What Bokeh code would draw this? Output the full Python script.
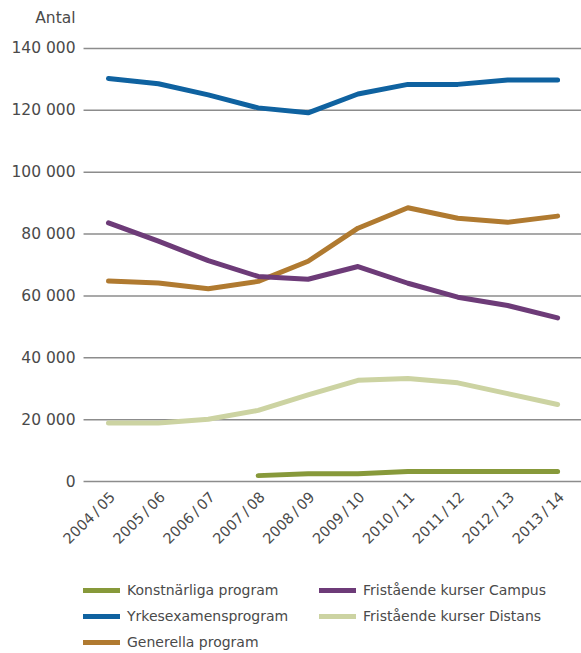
from bokeh.plotting import figure
from bokeh.models import Range1d, Legend, LegendItem
from bokeh.core.properties import value
from bokeh.embed import file_html
from bokeh.resources import INLINE
import math

year_labels = ["2004\u2009/\u200905", "2005\u2009/\u200906", "2006\u2009/\u200907", "2007\u2009/\u200908",
               "2008\u2009/\u200909", "2009\u2009/\u200910", "2010\u2009/\u200911", "2011\u2009/\u200912",
               "2012\u2009/\u200913", "2013\u2009/\u200914"]

konstnarliga = [None, None, None, 1900, 2500, 2500, 3200, 3200, 3200, 3200]
yrkesexamen = [130300, 128600, 125000, 120800, 119200, 125300, 128400, 128400, 129800, 129800]
generella = [64800, 64200, 62300, 64700, 71200, 81900, 88500, 85100, 83800, 85800]
campus = [83600, 77700, 71400, 66300, 65400, 69500, 64100, 59600, 56900, 52900]
distans = [18900, 18900, 20100, 23000, 28000, 32700, 33300, 31900, 28400, 24900]

y_ticks = [0, 20000, 40000, 60000, 80000, 100000, 120000, 140000]
y_tick_labels = ["0", "20 000", "40 000", "60 000", "80 000", "100 000", "120 000", "140 000"]
unit_label = "Antal"
unit_label_pos = 149700

FONT = "DejaVu Sans"
TXT = "#4a4a4a"
GRID = "#8c8c8c"

x_idx = list(range(len(year_labels)))
X_START, X_END = -2.164, 9.479
axis_x = x_idx[0] - 0.5

p = figure(frame_width=581, frame_height=643,
           x_range=Range1d(X_START, X_END),
           y_range=Range1d(-55612, 152286),
           x_axis_location=None, y_axis_location=None,
           output_backend="svg", toolbar_location=None,
           min_border_left=0, min_border_right=0, min_border_top=10, min_border_bottom=0)
p.outline_line_color = None
p.background_fill_color = "white"
p.border_fill_color = "white"
p.xgrid.grid_line_color = None
p.ygrid.grid_line_color = None

# horizontal grid lines (incl. the zero baseline)
p.segment(x0=[axis_x] * len(y_ticks), y0=y_ticks, x1=[X_END] * len(y_ticks), y1=y_ticks,
          line_color=GRID, line_width=1.5)

# y tick labels and unit label
p.text(x=[axis_x] * (len(y_ticks) + 1), y=y_ticks + [unit_label_pos],
       text=y_tick_labels + [unit_label], text_align="right", text_baseline="middle",
       x_offset=-8, text_font=value(FONT), text_font_size="15.5px", text_color=TXT)

# category labels, rotated, hanging under the zero line
p.text(x=x_idx, y=[0] * len(x_idx), text=year_labels, angle=math.pi / 4,
       text_align="right", text_baseline="middle", x_offset=4, y_offset=13,
       text_font=value(FONT), text_font_size="14.5px", text_color=TXT)

series = [
    ("Konstnärliga program", konstnarliga, "#87993a"),
    ("Yrkesexamensprogram", yrkesexamen, "#0f62a0"),
    ("Generella program", generella, "#b07a30"),
    ("Fristående kurser Campus", campus, "#6d3b78"),
    ("Fristående kurser Distans", distans, "#ccd3a2"),
]

items = []
for name, vals, col in series:
    xs = [x_idx[i] for i, v in enumerate(vals) if v is not None]
    ys = [v for v in vals if v is not None]
    r = p.line(xs, ys, line_color=col, line_width=5, line_cap="round", line_join="round")
    items.append(LegendItem(label=name, renderers=[r]))

common = dict(label_text_font=FONT, label_text_font_size="14px", label_text_color=TXT,
              glyph_width=37, glyph_height=20, label_standoff=7, spacing=6,
              label_height=20, padding=0, margin=0, border_line_color=None,
              background_fill_alpha=0)
legend1 = Legend(items=items[:3], location=(83, 1), **common)
legend2 = Legend(items=items[3:], location=(319, 27), **common)
p.add_layout(legend1, "center")
p.add_layout(legend2, "center")

open("out.html", "w").write(file_html(p, INLINE))
